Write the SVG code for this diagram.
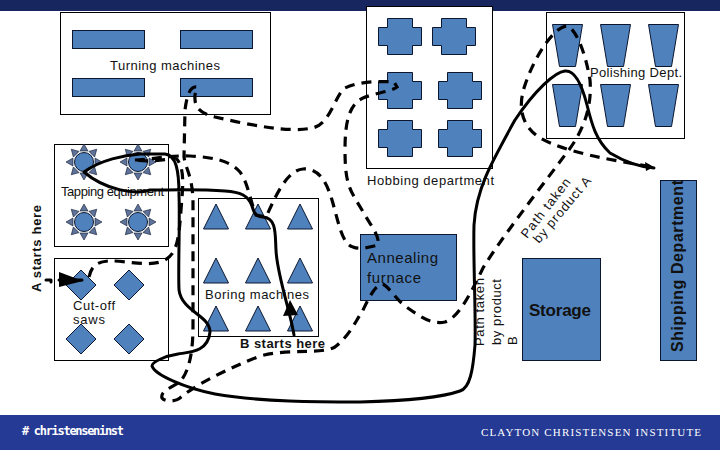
<svg xmlns="http://www.w3.org/2000/svg" xmlns:xlink="http://www.w3.org/1999/xlink" width="720" height="450" viewBox="0 0 720 450">
<style>
.box{fill:#fff;stroke:#000;stroke-width:1}
.m{fill:#4f81bd;stroke:#0b1730;stroke-width:1}
.sp{fill:#5f7299;stroke:#0b1730;stroke-width:.6}
text{font-family:"Liberation Sans",Arial,sans-serif;fill:#111}
.l{font-size:13px}
.b{font-weight:bold}
.sol{fill:none;stroke:#000;stroke-width:3;stroke-linecap:round;stroke-linejoin:round}
.dash{fill:none;stroke:#000;stroke-width:3.2;stroke-dasharray:10 7}
</style>
<defs>
<rect id="bar" class="m" width="72" height="18"/>
<polygon id="cross" class="m" points="9,0 34,0 34,9 43,9 43,27 34,27 34,36 9,36 9,27 0,27 0,9 9,9"/>
<polygon id="trap" class="m" points="0,0 30,0 23,42 7,42"/>
<polygon id="tri" class="m" points="0,-25 12.5,0 -12.5,0"/>
<polygon id="dia" class="m" points="0,-15 15,0 0,15 -15,0"/>
<polygon id="spike" class="sp" points="-4,-11 4,-11 0,-18"/>
<g id="gear">
<use href="#spike"/><use href="#spike" transform="rotate(45)"/><use href="#spike" transform="rotate(90)"/><use href="#spike" transform="rotate(135)"/><use href="#spike" transform="rotate(180)"/><use href="#spike" transform="rotate(225)"/><use href="#spike" transform="rotate(270)"/><use href="#spike" transform="rotate(315)"/>
<circle class="m" r="9.5"/>
</g>
</defs>
<rect width="720" height="450" fill="#fff"/>
<rect id="top-band" width="720" height="11" fill="#17265e"/>
<rect id="bottom-band" y="415" width="720" height="35" fill="#253a94"/>

<g id="turning">
<rect class="box" x="60.5" y="12.5" width="210" height="102"/>
<use href="#bar" x="72.5" y="30.5"/><use href="#bar" x="180.5" y="30.5"/><use href="#bar" x="72.5" y="78.5"/><use href="#bar" x="180.5" y="78.5"/>
<text class="l" x="110" y="70" textLength="110">Turning machines</text>
</g>
<g id="hobbing">
<rect class="box" x="366.5" y="6.5" width="126" height="162"/>
<use href="#cross" x="378.5" y="18.5"/><use href="#cross" x="432.5" y="18.5"/>
<use href="#cross" x="378.5" y="72.5"/><use href="#cross" x="438.5" y="72.5"/>
<use href="#cross" x="378.5" y="120.5"/><use href="#cross" x="438.5" y="120.5"/>
<text class="l" x="367" y="185" textLength="127">Hobbing department</text>
</g>
<g id="polishing">
<rect class="box" x="546.5" y="12.5" width="138" height="126"/>
<use href="#trap" x="552.5" y="24.5"/><use href="#trap" x="600.5" y="24.5"/><use href="#trap" x="648.5" y="24.5"/>
<use href="#trap" x="552.5" y="84.5"/><use href="#trap" x="600.5" y="84.5"/><use href="#trap" x="648.5" y="84.5"/>
<text class="l" x="590" y="77" textLength="92">Polishing Dept.</text>
</g>
<g id="tapping">
<rect class="box" x="54.5" y="144.5" width="114" height="102"/>
<use href="#gear" x="84" y="162"/><use href="#gear" x="138" y="162"/><use href="#gear" x="84" y="222"/><use href="#gear" x="138" y="222"/>
<text class="l" x="61" y="196" textLength="103">Tapping equipment</text>
</g>
<g id="cutoff">
<rect class="box" x="54.5" y="258.5" width="114" height="102"/>
<use href="#dia" x="81" y="285"/><use href="#dia" x="129" y="285"/><use href="#dia" x="81" y="339"/><use href="#dia" x="129" y="339"/>
<text class="l" x="73" y="310" textLength="42">Cut-off</text>
<text class="l" x="73" y="324" textLength="32">saws</text>
</g>
<g id="boring">
<rect class="box" x="198.5" y="198.5" width="120" height="138"/>
<use href="#tri" x="216" y="229"/><use href="#tri" x="258" y="229"/><use href="#tri" x="300" y="229"/>
<use href="#tri" x="216" y="283"/><use href="#tri" x="258" y="283"/><use href="#tri" x="300" y="283"/>
<use href="#tri" x="216" y="331"/><use href="#tri" x="258" y="331"/><use href="#tri" x="300" y="331"/>
<text class="l" x="205" y="299" textLength="104">Boring machines</text>
</g>
<g id="annealing">
<rect class="m" x="360.5" y="234.5" width="96" height="66"/>
<text x="367" y="263" font-size="15" textLength="71">Annealing</text>
<text x="367" y="283" font-size="15" textLength="54">furnace</text>
</g>
<g id="storage">
<rect class="m" x="522.5" y="258.5" width="78" height="102"/>
<text class="b" x="529" y="316" font-size="17" textLength="62">Storage</text>
</g>
<g id="shipping">
<rect class="m" x="660.5" y="180.5" width="36" height="180"/>
<text class="b" transform="translate(683,352) rotate(-90)" font-size="16" textLength="172">Shipping Department</text>
</g>

<g id="labels">
<text class="b" transform="translate(41,292) rotate(-90)" font-size="13" textLength="87">A starts here</text>
<text class="b" x="240" y="348" font-size="13" textLength="85">B starts here</text>
<text class="l" transform="translate(484,346) rotate(-90)" textLength="68">Path taken</text>
<text class="l" transform="translate(500.500,345) rotate(-90)" textLength="66">by product</text>
<text class="l" transform="translate(517,345) rotate(-90)">B</text>
<text class="l" transform="translate(527,239) rotate(-52)" textLength="72">Path taken</text>
<text class="l" transform="translate(539,244) rotate(-50)" textLength="82">by product A</text>
<text x="22" y="435" font-size="12" font-weight="bold" style="font-family:'DejaVu Sans Mono',monospace;fill:#fff" textLength="102"># christenseninst</text>
<text x="481" y="436" font-size="11" style="font-family:'Liberation Serif',serif;fill:#fff" textLength="220">CLAYTON  CHRISTENSEN  INSTITUTE</text>
</g>

<g id="connectors">
<path class="sol" d="M294,335 C290,310 277,275 276,250 C275,235 277,218 263,217 C256,217 254,213 252,206 C248,195 240,192 225,191 C200,189 170,190 150,190 C135,195 105,190 84,172 C100,160 125,155 140,154 L165,154 C176,155 179,170 179,195 C180,230 178,265 179,290 C182,312 210,315 210,332 C208,352 190,352 178,354 C165,356 152,362 152,366 C155,375 185,388 215,394 C260,402 320,402 360,402 C400,401 440,398 460,391 C470,388 473,370 475,345 C476,310 473,260 474,225 C476,190 490,165 515,120 C535,90 555,72 565,71 C575,70 582,85 587,105 C592,125 596,140 610,153 C625,162 640,167 654,168"/>
<path class="sol" d="M59,280 L82,280"/>
<polygon points="59,272 83,281 59,287" fill="#000"/>
<polygon points="283,316 298,315 290,300" fill="#000"/>
<path class="sol" d="M46,280 L51,280 L51,282"/>
<polygon points="645,162 654,167 646,171" fill="#000"/>
<path class="dash" d="M89,277 C91,268 95,262 108,261 C125,260 150,268 165,260 C178,253 179,235 181,210 C183,185 185,168 176,158 C165,160 150,162 133,160 C150,160 170,155 190,156 C210,157 230,160 240,172 C248,183 250,200 256,215 L266,217 C272,205 285,170 303,169 C318,168 326,180 332,200 C338,220 342,245 353,247 C360,250 370,247 378,245 C380,235 370,225 362,210 C350,190 345,185 345,150 C345,125 348,105 363,98 C375,93 390,92 397,87 L394,82 C380,81 360,81 345,88 C335,95 330,125 312,128 C290,133 250,125 215,117 C200,113 194,108 195,95 C196,90 197,86 197,87 C190,86 187,95 185,110 L184,157 C186,170 192,175 193,200 L193,325 C193,350 190,370 180,382 C170,388 160,392 162,398 C165,402 175,402 180,398 C195,385 225,370 260,356 C290,348 320,355 335,347 C350,335 355,322 362,312 C368,300 375,284 383,284 C390,288 395,298 405,306 C418,315 430,325 445,322 C458,318 470,295 483,268 C500,240 535,195 565,155 C585,130 592,105 590,80 C585,50 575,28 567,26 C555,26 535,55 525,85 C518,105 520,125 540,138 C565,152 610,160 653,167"/>
</g>
</svg>
